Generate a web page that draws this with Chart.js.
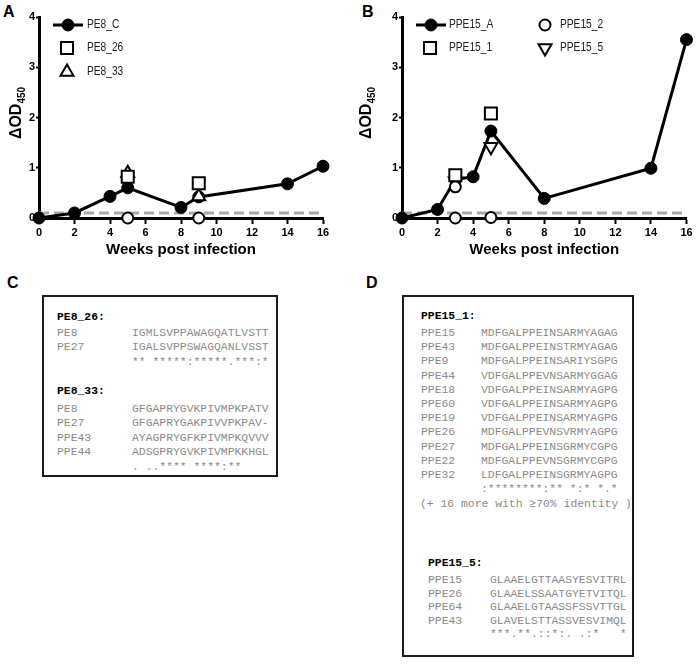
<!DOCTYPE html>
<html>
<head>
<meta charset="utf-8">
<script src="https://cdn.jsdelivr.net/npm/chart.js@4.4.1/dist/chart.umd.min.js"></script>
<style>
body { margin: 0; background: #fff; width: 697px; height: 665px; position: relative; overflow: hidden; font-family: "Liberation Sans", Arial, sans-serif; }
.panel { position: absolute; font-weight: bold; font-size: 16px; line-height: 1; color: #000; }
canvas { position: absolute; top: 0; }
#cvA { left: 0; }
#cvB { left: 350px; }
.box { position: absolute; border: 2px solid #1a1a1a; box-sizing: border-box; }
.ln { position: absolute; font-family: "Liberation Mono", "Courier New", monospace; font-size: 11.4px; line-height: 14px; color: #8a8a8a; white-space: pre; }
.hd { color: #000; font-weight: bold; }
</style>
</head>
<body>
<div class="panel" style="left:3px;top:4px">A</div>
<div class="panel" style="left:362px;top:4px">B</div>
<div class="panel" style="left:7px;top:275px">C</div>
<div class="panel" style="left:366px;top:275px">D</div>
<canvas id="cvA" width="345" height="262"></canvas>
<canvas id="cvB" width="347" height="262"></canvas>
<div class="box" style="left:42px;top:295px;width:236px;height:182px"></div>
<div class="box" style="left:402px;top:295px;width:232px;height:362px"></div>
<script>
// panel A - PE8 peptides
const weeksA = [0, 2, 4, 5, 8, 9, 14, 16];
const pe8C = [0, 0.1, 0.43, 0.6, 0.21, 0.42, 0.68, 1.03];
const weeksA26 = [5, 9];
const pe8_26 = [0.82, 0.69];
const weeksA33 = [5, 9];
const pe8_33 = [0.89, 0.43];
const weeksAc = [5, 9];
const ctrlA = [0, 0];

// panel B - PPE15 peptides
const weeksB = [0, 2, 3, 4, 5, 8, 14, 16];
const ppe15A = [0, 0.17, 0.77, 0.82, 1.73, 0.39, 0.99, 3.55];
const weeksB1 = [3, 5];
const ppe15_1 = [0.85, 2.08];
const weeksB2 = [3, 3, 5];
const ppe15_2 = [0.62, 0, 0.01];
const weeksB5 = [3, 5];
const ppe15_5 = [0.73, 1.42];

const cutoff = 0.1;
const xTicks = [0, 2, 4, 6, 8, 10, 12, 14, 16];
const yTicks = [0, 1, 2, 3, 4];

const pts = (xs, ys) => xs.map((x, i) => ({ x: x, y: ys[i] }));

function lineSet(label, xs, ys) {
    return { label: label, data: pts(xs, ys), showLine: true, borderColor: '#000', borderWidth: 3,
        pointStyle: 'circle', pointRadius: 6, pointBackgroundColor: '#000', pointBorderColor: '#000',
        pointBorderWidth: 1, order: 5, clip: false };
}
function openSet(label, xs, ys, style, radius, rot) {
    return { label: label, data: pts(xs, ys), showLine: false, pointStyle: style, pointRadius: radius,
        pointRotation: rot || 0, pointBackgroundColor: '#fff', pointBorderColor: '#000',
        pointBorderWidth: 2, order: 1, clip: false };
}
function cutSet() {
    return { label: 'cutoff', data: pts([0, 16], [cutoff, cutoff]), showLine: true, borderColor: '#a8a8a8',
        borderWidth: 3, borderDash: [10, 5], pointRadius: 0, order: 10, clip: false };
}

const sideLegend = {
    id: 'sideLegend',
    afterDraw(chart, args, opts) {
        const ctx = chart.ctx;
        // y axis title with subscript
        ctx.save();
        ctx.translate(15, 113);
        ctx.rotate(-Math.PI / 2);
        ctx.fillStyle = '#000';
        ctx.textBaseline = 'alphabetic';
        ctx.font = 'bold 16px "Liberation Sans", Arial';
        const w1 = ctx.measureText('\u0394OD').width;
        ctx.font = 'bold 10px "Liberation Sans", Arial';
        const w2 = ctx.measureText('450').width;
        ctx.font = 'bold 16px "Liberation Sans", Arial';
        ctx.fillText('\u0394OD', -(w1 + w2) / 2, 6);
        ctx.font = 'bold 10px "Liberation Sans", Arial';
        ctx.fillText('450', -(w1 + w2) / 2 + w1, 10);
        ctx.restore();

        (opts.items || []).forEach(it => {
            const ds = chart.data.datasets[it.ds];
            ctx.save();
            if (it.line) {
                ctx.strokeStyle = '#000';
                ctx.lineWidth = 3;
                ctx.beginPath();
                ctx.moveTo(it.x - 15, it.y);
                ctx.lineTo(it.x + 15, it.y);
                ctx.stroke();
            }
            ctx.fillStyle = ds.pointBackgroundColor;
            ctx.strokeStyle = ds.pointBorderColor;
            ctx.lineWidth = ds.pointBorderWidth;
            Chart.helpers.drawPoint(ctx, { pointStyle: ds.pointStyle, rotation: ds.pointRotation || 0,
                radius: ds.pointRadius, borderWidth: ds.pointBorderWidth }, it.x, it.y);
            ctx.restore();
            ctx.save();
            ctx.fillStyle = '#222';
            ctx.font = '12px "Liberation Sans", Arial';
            ctx.textBaseline = 'middle';
            ctx.translate(it.tx, it.y);
            ctx.scale(0.85, 1);
            ctx.fillText(ds.label, 0, 0);
            ctx.restore();
        });
    }
};

function makeChart(id, width, left, right, datasets, items) {
    return new Chart(document.getElementById(id), {
        type: 'line',
        data: { datasets: datasets },
        options: {
            responsive: false,
            animation: false,
            events: [],
            devicePixelRatio: 1,
            layout: { padding: { left: 0, right: width - right, top: 17, bottom: 0 } },
            plugins: { legend: { display: false }, tooltip: { enabled: false }, sideLegend: { items: items } },
            scales: {
                x: {
                    type: 'linear', min: 0, max: 16,
                    afterFit: s => { s.height = 44; },
                    afterBuildTicks: s => { s.ticks = xTicks.map(v => ({ value: v })); },
                    grid: { drawOnChartArea: false, drawTicks: true, tickLength: 6, tickWidth: 2, tickColor: '#000' },
                    border: { display: true, color: '#000', width: 3 },
                    ticks: { color: '#000', padding: 2, maxRotation: 0, font: { family: '"Liberation Sans", Arial', size: 11, weight: 'bold' } },
                    title: { display: true, text: 'Weeks post infection', color: '#000', padding: { top: 0, bottom: 3 },
                        font: { family: '"Liberation Sans", Arial', size: 15, weight: 'bold' } }
                },
                y: {
                    min: 0, max: 4,
                    afterFit: s => { s.width = left; },
                    afterBuildTicks: s => { s.ticks = yTicks.map(v => ({ value: v })); },
                    grid: { drawOnChartArea: false, drawTicks: true, tickLength: 3, tickWidth: 2, tickColor: '#000' },
                    border: { display: true, color: '#000', width: 3 },
                    ticks: { color: '#000', padding: 1, font: { family: '"Liberation Sans", Arial', size: 11, weight: 'bold' } }
                }
            }
        },
        plugins: [sideLegend]
    });
}

makeChart('cvA', 345, 39, 323, [
    cutSet(),
    lineSet('PE8_C', weeksA, pe8C),
    openSet('PE8_26', weeksA26, pe8_26, 'rect', 8.5),
    openSet('PE8_33', weeksA33, pe8_33, 'triangle', 7.5),
    openSet('', weeksAc, ctrlA, 'circle', 5.5)
], [
    { ds: 1, x: 68, y: 25, tx: 87, line: true },
    { ds: 2, x: 67, y: 48, tx: 87 },
    { ds: 3, x: 67, y: 72, tx: 87 }
]);

makeChart('cvB', 347, 52, 338, [
    cutSet(),
    lineSet('PPE15_A', weeksB, ppe15A),
    openSet('PPE15_1', weeksB1, ppe15_1, 'rect', 8.5),
    openSet('PPE15_2', weeksB2, ppe15_2, 'circle', 5.5),
    openSet('PPE15_5', weeksB5, ppe15_5, 'triangle', 7.5, 180)
], [
    { ds: 1, x: 81, y: 25, tx: 99, line: true },
    { ds: 2, x: 80, y: 48, tx: 99 },
    { ds: 3, x: 195, y: 25, tx: 210 },
    { ds: 4, x: 195, y: 48, tx: 210 }
]);

// alignment panels C and D
function addLine(text, x, cy, cls) {
    const d = document.createElement('div');
    d.className = 'ln' + (cls ? ' ' + cls : '');
    d.textContent = text;
    d.style.left = x + 'px';
    d.style.top = (cy - 7) + 'px';
    document.body.appendChild(d);
}
function addBlock(head, rows, nx, sx, hy, ry, step) {
    addLine(head, nx, hy, 'hd');
    rows.forEach((r, i) => {
        if (r[0]) addLine(r[0], nx, ry + i * step);
        addLine(r[1], sx, ry + i * step);
    });
}

addBlock('PE8_26:', [
    ['PE8', 'IGMLSVPPAWAGQATLVSTT'],
    ['PE27', 'IGALSVPPSWAGQANLVSST'],
    ['', '** *****:*****.***:*']
], 57, 132, 317, 333, 14.3);

addBlock('PE8_33:', [
    ['PE8', 'GFGAPRYGVKPIVMPKPATV'],
    ['PE27', 'GFGAPRYGAKPIVVPKPAV-'],
    ['PPE43', 'AYAGPRYGFKPIVMPKQVVV'],
    ['PPE44', 'ADSGPRYGVKPIVMPKKHGL'],
    ['', '. ..**** ****:**']
], 57, 132, 391, 409, 14.4);

addBlock('PPE15_1:', [
    ['PPE15', 'MDFGALPPEINSARMYAGAG'],
    ['PPE43', 'MDFGALPPEINSTRMYAGAG'],
    ['PPE9', 'MDFGALPPEINSARIYSGPG'],
    ['PPE44', 'VDFGALPPEVNSARMYGGAG'],
    ['PPE18', 'VDFGALPPEINSARMYAGPG'],
    ['PPE60', 'VDFGALPPEINSARMYAGPG'],
    ['PPE19', 'VDFGALPPEINSARMYAGPG'],
    ['PPE26', 'MDFGALPPEVNSVRMYAGPG'],
    ['PPE27', 'MDFGALPPEINSGRMYCGPG'],
    ['PPE22', 'MDFGALPPEVNSGRMYCGPG'],
    ['PPE32', 'LDFGALPPEINSGRMYAGPG'],
    ['', ':********:** *:* *.*']
], 421, 481, 316, 333, 14.2);
addLine('(+ 16 more with \u226570% identity )', 420, 504);

addBlock('PPE15_5:', [
    ['PPE15', 'GLAAELGTTAASYESVITRL'],
    ['PPE26', 'GLAAELSSAATGYETVITQL'],
    ['PPE64', 'GLAAELGTAASSFSSVTTGL'],
    ['PPE43', 'GLAVELSTTASSVESVIMQL'],
    ['', '***.**.::*:. .:*   *']
], 428, 490, 563, 580, 13.6);
</script>
</body>
</html>
